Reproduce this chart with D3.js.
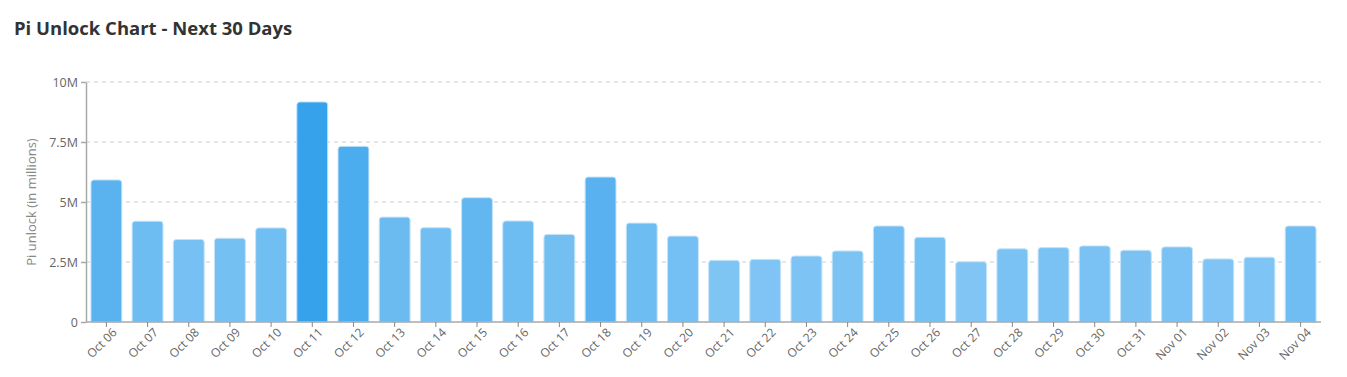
<!DOCTYPE html>
<html>
<head>
<meta charset="utf-8">
<script src="https://cdn.jsdelivr.net/npm/d3@7"></script>
<style>
  body { margin: 0; background: #fff; font-family: "Open Sans", "Noto Sans", sans-serif; }
</style>
</head>
<body>
<div id="chart"></div>
<script>
// Chart data (values in millions of Pi)
const days = ["Oct 06", "Oct 07", "Oct 08", "Oct 09", "Oct 10", "Oct 11", "Oct 12", "Oct 13", "Oct 14", "Oct 15",
  "Oct 16", "Oct 17", "Oct 18", "Oct 19", "Oct 20", "Oct 21", "Oct 22", "Oct 23", "Oct 24", "Oct 25",
  "Oct 26", "Oct 27", "Oct 28", "Oct 29", "Oct 30", "Oct 31", "Nov 01", "Nov 02", "Nov 03", "Nov 04"];
const unlocks = [5.92, 4.2, 3.44, 3.49, 3.92, 9.17, 7.32, 4.37, 3.93, 5.18,
  4.21, 3.65, 6.04, 4.12, 3.58, 2.57, 2.61, 2.75, 2.96, 4.0,
  3.53, 2.51, 3.05, 3.1, 3.17, 2.99, 3.13, 2.63, 2.7, 4.0];
const yTicks = [0, 2.5, 5, 7.5, 10];
const yTickLabels = ["0", "2.5M", "5M", "7.5M", "10M"];

const width = 1347, height = 377;
const margin = { top: 82, right: 26, bottom: 55, left: 86 };

const svg = d3.select("#chart").append("svg")
  .attr("width", width)
  .attr("height", height);

// Title
svg.append("text")
  .attr("x", 14)
  .attr("y", 35)
  .attr("font-size", 18.5)
  .attr("font-weight", "bold")
  .attr("fill", "#333")
  .text("Pi Unlock Chart - Next 30 Days");

const x = d3.scaleBand()
  .domain(days)
  .range([margin.left, width - margin.right])
  .paddingInner(0.25)
  .paddingOuter(0.12);

const y = d3.scaleLinear()
  .domain([0, 10])
  .range([height - margin.bottom, margin.top]);

// Bar colour depends on value (lighter for smaller unlocks)
const color = d3.scaleLinear()
  .domain([d3.min(unlocks), d3.max(unlocks)])
  .range(["#80c5f4", "#36a2eb"])
  .interpolate(d3.interpolateRgb);

// Grid lines
svg.append("g")
  .selectAll("line")
  .data(yTicks.filter(d => d > 0))
  .enter()
  .append("line")
  .attr("x1", margin.left)
  .attr("x2", width - margin.right)
  .attr("y1", d => y(d))
  .attr("y2", d => y(d))
  .attr("stroke", "#dedede")
  .attr("stroke-width", 1.5)
  .attr("stroke-dasharray", "4,4");

// Bars with rounded tops
const r = 3;
svg.append("g")
  .selectAll("path")
  .data(days)
  .enter()
  .append("path")
  .attr("d", (d, i) => {
    const x0 = x(d), w = x.bandwidth(), y0 = y(unlocks[i]), y1 = y(0);
    return `M${x0},${y1}V${y0 + r}Q${x0},${y0} ${x0 + r},${y0}H${x0 + w - r}Q${x0 + w},${y0} ${x0 + w},${y0 + r}V${y1}Z`;
  })
  .attr("fill", (d, i) => color(unlocks[i]))
  .attr("stroke", "#c4e4fb")
  .attr("stroke-width", 1);

// Y axis
const yAxis = svg.append("g")
  .attr("transform", `translate(${margin.left},0)`)
  .call(d3.axisLeft(y).tickValues(yTicks).tickFormat((d, i) => yTickLabels[i]).tickSize(5).tickSizeOuter(0));
yAxis.select(".domain").attr("stroke", "#a8a8a8").attr("stroke-width", 1.5);
yAxis.selectAll(".tick line").attr("stroke", "#a8a8a8").attr("stroke-width", 1.5);
yAxis.selectAll(".tick text")
  .attr("font-family", "Open Sans, sans-serif")
  .attr("font-size", 12.5)
  .attr("fill", "#666")
  .attr("x", -8);

// X axis
const xAxis = svg.append("g")
  .attr("transform", `translate(0,${y(0)})`)
  .call(d3.axisBottom(x).tickSize(5).tickSizeOuter(0));
xAxis.select(".domain").attr("stroke", "#a8a8a8").attr("stroke-width", 1.5)
  .attr("d", `M${margin.left},0H${width - margin.right}`);
xAxis.selectAll(".tick line").attr("stroke", "#888");
xAxis.selectAll(".tick text")
  .attr("font-family", "Open Sans, sans-serif")
  .attr("font-size", 12)
  .attr("fill", "#666")
  .attr("text-anchor", "end")
  .attr("transform", "translate(4,4) rotate(-45)")
  .attr("dy", "0.35em")
  .attr("x", 0)
  .attr("y", 6);

// Y axis title
svg.append("text")
  .attr("transform", `translate(36,${y(5)}) rotate(-90)`)
  .attr("text-anchor", "middle")
  .attr("font-size", 13)
  .attr("fill", "#888")
  .text("Pi unlock (in millions)");
</script>
</body>
</html>
